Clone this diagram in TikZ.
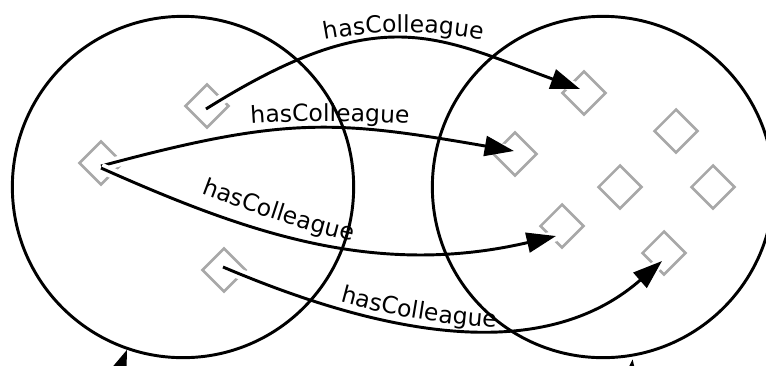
\documentclass[tikz,border=0pt]{standalone}
\usepackage{fontspec}
\newfontfamily\lblfont{DejaVu Sans}
\usetikzlibrary{arrows.meta,shapes.geometric,decorations.text}
\newcommand\lblfmt{\lblfont\fontsize{17.6pt}{21pt}\selectfont}
\definecolor{membergray}{RGB}{168,168,168}

\begin{document}
\begin{tikzpicture}[x=0.75pt,y=0.75pt,
  member/.style={shape=diamond, draw=membergray, line width=1.9pt,
    minimum width=33pt, minimum height=33pt, inner sep=0pt},
  classset/.style={shape=circle, draw=black, line width=2.2pt,
    minimum size=256pt, inner sep=0pt},
  relation/.style={draw=black, line width=2.2pt,
    -{Triangle[length=22pt,width=15pt]},
    preaction={draw=white, line width=8pt, -}},
  incoming/.style={draw=black, line width=2.2pt,
    -{Triangle[length=22pt,width=15pt]}},
  relname/.style={decorate, decoration={text along path, text align=center,
    text={|\lblfmt|hasColleague}}}
]
\useasboundingbox (0,0) rectangle (766,-365);
\clip (0,0) rectangle (766,-365);

% individuals of the first class
\node[member] (l1) at (207,-106) {};
\node[member] (l2) at (101,-163) {};
\node[member] (l3) at (224,-270) {};

% individuals of the second class
\node[member] (r1) at (584,-93) {};
\node[member] (r2) at (515,-154) {};
\node[member] (r3) at (676,-131) {};
\node[member] (r4) at (620,-187) {};
\node[member] (r5) at (713,-187) {};
\node[member] (r6) at (562,-226) {};
\node[member] (r7) at (664,-253) {};

% hasColleague links
\draw[relation] ([shift={(-1,-3)}]l1.center) .. controls (381,1) and (437,-37) .. ([shift={(-4,4)}]r1.center);
\draw[relation] ([shift={(0,-3)}]l2.center) .. controls (286,-116) and (335,-120) .. ([shift={(-1,3)}]r2.center);
\draw[relation] ([shift={(0,-5)}]l2.center) .. controls (247,-233) and (375,-278) .. ([shift={(-6,-10)}]r6.center);
\draw[relation] ([shift={(-1,3)}]l3.center) .. controls (376,-332) and (540,-368) .. ([shift={(-2,-8)}]r7.center);

% the two classes
\node[classset] (A) at (183,-187) {};
\node[classset] (B) at (603,-187) {};

% link names
\path[relname] (310,-43) .. controls (365,-29) and (442,-29) .. (497,-43);
\path[relname] (238,-125) .. controls (290,-120) and (370,-120) .. (422,-125);
\path[relname] (190,-189) .. controls (245,-210) and (300,-230) .. (364,-244);
\path[relname] (330,-299) .. controls (385,-315) and (440,-325) .. (507,-328);

% links entering the classes from below
\coordinate (inA) at (113,-387);
\coordinate (inB) at (628,-400);
\draw[incoming] (inA) -- (A.251);
\draw[incoming, shorten >=2pt] (inB) -- (B.280);
\end{tikzpicture}
\end{document}
